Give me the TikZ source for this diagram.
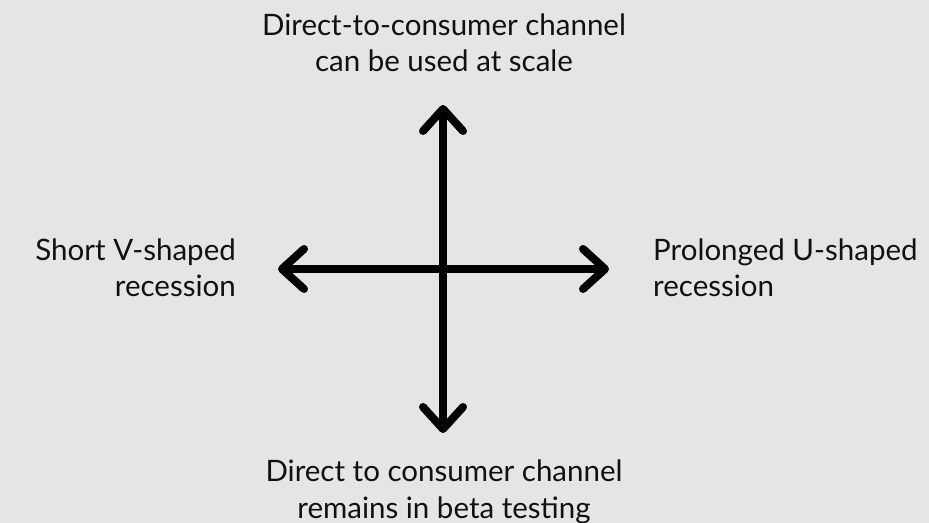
\documentclass[tikz,border=0pt]{standalone}
\usepackage{fontspec}
\setmainfont{Lato}
\usetikzlibrary{arrows.meta}
\definecolor{bgcol}{HTML}{E5E5E5}
\definecolor{ink}{HTML}{111111}
\tikzset{
  axis/.style={line width=8bp, draw=black, line cap=round,
    {Straight Barb[round,length=22bp,width=40bp]}-{Straight Barb[round,length=22bp,width=40bp]}},
  lbl/.style={text=ink, font=\fontsize{29.5bp}{36.5bp}\selectfont, inner sep=0pt}
}
\begin{document}
\begin{tikzpicture}[x=1bp,y=-1bp]
\fill[bgcol] (0,0) rectangle (929,523);
\useasboundingbox (0,0) rectangle (929,523);
% end points of the two axes
\coordinate (n) at (443,105);
\coordinate (s) at (443,433);
\coordinate (w) at (278,269);
\coordinate (e) at (609,269);
\draw[axis] (s) -- (n);
\draw[axis] (w) -- (e);
% captions (anchored on the baseline of their last line)
\node[lbl, align=center, anchor=base] (top) at (444,72)
  {Direct-to-consumer channel\\can be used at scale};
\node[lbl, align=center, anchor=base] (bot) at (444,518)
  {Direct to consumer channel\\remains in beta testing};
\node[lbl, align=right, anchor=base east] (left) at (236,297)
  {Short V-shaped\\recession};
\node[lbl, align=left, anchor=base west] (right) at (653,297)
  {Prolonged U-shaped\\recession};
\end{tikzpicture}
\end{document}
